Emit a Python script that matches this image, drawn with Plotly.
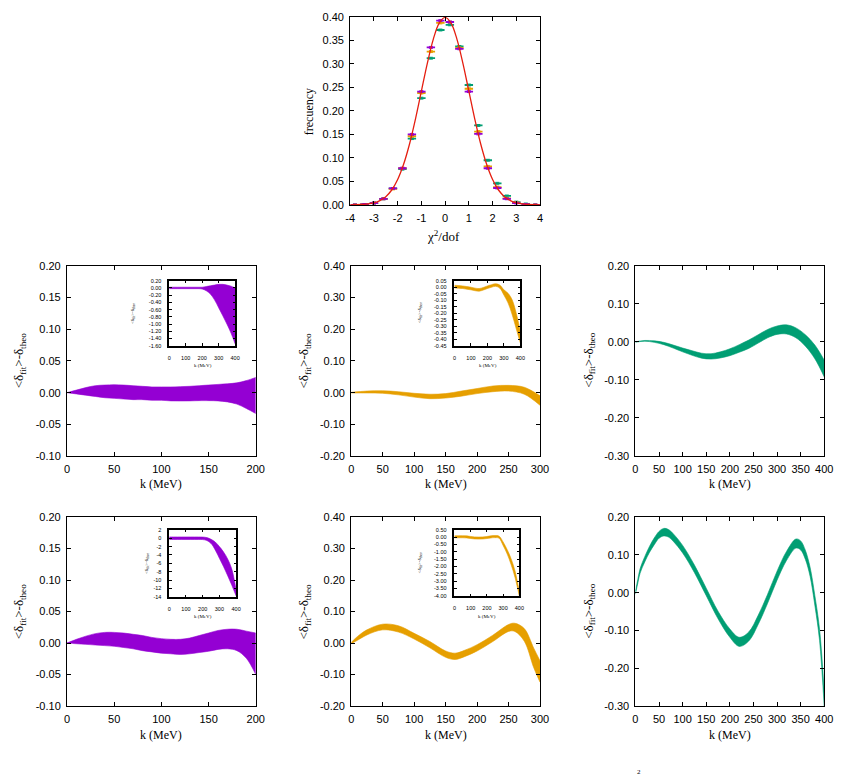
import plotly.graph_objects as go

W, H = 849, 784

# ---------------- data ----------------
chi_x = [-3.8, -3.4, -3.0, -2.6, -2.2, -1.8, -1.4, -1.0, -0.6, -0.2, 0.2, 0.6, 1.0, 1.4, 1.8, 2.2, 2.6, 3.0, 3.4, 3.8]
freq_purple = [0.000, 0.001, 0.004, 0.013, 0.035, 0.078, 0.150, 0.241, 0.335, 0.392, 0.389, 0.332, 0.241, 0.151, 0.078, 0.036, 0.013, 0.004, 0.001, 0.000]
freq_orange = [0.000, 0.001, 0.004, 0.013, 0.034, 0.078, 0.146, 0.238, 0.326, 0.387, 0.389, 0.334, 0.247, 0.156, 0.082, 0.038, 0.014, 0.005, 0.001, 0.000]
freq_green = [0.000, 0.001, 0.004, 0.013, 0.035, 0.076, 0.141, 0.227, 0.312, 0.372, 0.383, 0.337, 0.255, 0.169, 0.095, 0.046, 0.019, 0.006, 0.002, 0.000]
freq_err = 0.002

gauss_x = [-4.0, -3.75, -3.5, -3.25, -3.0, -2.75, -2.5, -2.25, -2.0, -1.75, -1.5, -1.25, -1.0, -0.75, -0.5, -0.25, 0.0,
           0.25, 0.5, 0.75, 1.0, 1.25, 1.5, 1.75, 2.0, 2.25, 2.5, 2.75, 3.0, 3.25, 3.5, 3.75, 4.0]
gauss_y = [0.0001, 0.0004, 0.0009, 0.0020, 0.0044, 0.0091, 0.0175, 0.0317, 0.0540, 0.0863, 0.1295, 0.1826, 0.2420, 0.3011, 0.3521, 0.3867, 0.3989,
           0.3867, 0.3521, 0.3011, 0.2420, 0.1826, 0.1295, 0.0863, 0.0540, 0.0317, 0.0175, 0.0091, 0.0044, 0.0020, 0.0009, 0.0004, 0.0001]

# middle-left (purple, k up to 200)
k_ml = [0, 10, 20, 30, 40, 50, 60, 70, 80, 90, 100, 110, 120, 130, 140, 150, 160, 170, 180, 190, 200]
d_ml = [0, 0.001, 0.002, 0.0025, 0.002, 0.0018, 0.001, 0.0, -0.0005, -0.0015, -0.0015, -0.002, -0.0018, -0.0015, -0.0008, -0.0003, 0.0, -0.0003, -0.0013, -0.003, -0.0045]
e_ml = [0, 0.003, 0.006, 0.0085, 0.010, 0.0108, 0.011, 0.011, 0.0105, 0.0105, 0.0105, 0.011, 0.0113, 0.0115, 0.0118, 0.0123, 0.013, 0.0143, 0.0168, 0.022, 0.0285]

k_in = [0, 25, 50, 75, 100, 125, 150, 175, 200, 225, 250, 275, 300, 325, 350, 375, 400]
d_ml_in = [0, 0, 0, 0, 0, 0, 0, 0, -0.005, -0.02, -0.055, -0.125, -0.225, -0.335, -0.46, -0.6, -0.775]
e_ml_in = [0.02, 0.02, 0.02, 0.02, 0.02, 0.02, 0.02, 0.02, 0.025, 0.06, 0.115, 0.205, 0.325, 0.435, 0.54, 0.65, 0.775]

# middle-middle (orange, k up to 300)
k_mm = [0, 25, 50, 75, 100, 125, 150, 175, 200, 225, 250, 275, 300]
d_mm = [0, 0.002, 0.002, -0.002, -0.008, -0.012, -0.010, -0.003, 0.005, 0.012, 0.014, 0.006, -0.025]
e_mm = [0.001, 0.003, 0.004, 0.005, 0.006, 0.007, 0.007, 0.008, 0.008, 0.009, 0.009, 0.011, 0.015]

d_mm_in = [0.005, 0.003, 0.0, -0.005, -0.01, -0.017, -0.02, -0.012, 0.0, 0.01, 0.017, 0.005, -0.04, -0.083, -0.153, -0.26, -0.385]
e_mm_in = [0.01, 0.01, 0.01, 0.01, 0.01, 0.01, 0.01, 0.01, 0.01, 0.01, 0.01, 0.012, 0.02, 0.037, 0.057, 0.06, 0.045]

# middle-right (green, k up to 400)
k_mr = [0, 20, 40, 60, 80, 100, 120, 140, 160, 180, 200, 220, 240, 260, 280, 300, 320, 340, 360, 380, 400]
d_mr = [0.0, 0.003, 0.001, -0.004, -0.012, -0.021, -0.029, -0.036, -0.038, -0.034, -0.027, -0.017, -0.006, 0.008, 0.022, 0.031, 0.033, 0.024, 0.004, -0.026, -0.07]
e_mr = [0.0005, 0.001, 0.002, 0.003, 0.004, 0.005, 0.006, 0.0065, 0.007, 0.008, 0.009, 0.010, 0.011, 0.011, 0.011, 0.011, 0.012, 0.013, 0.015, 0.018, 0.022]

# bottom-left (purple, k up to 200)
k_bl = [0, 10, 20, 30, 40, 50, 60, 70, 80, 90, 100, 110, 120, 130, 140, 150, 160, 170, 180, 190, 200]
d_bl = [0, 0.0025, 0.0045, 0.006, 0.0065, 0.006, 0.0045, 0.0025, 0, -0.0025, -0.0045, -0.0055, -0.006, -0.0045, -0.0015, 0.0015, 0.005, 0.0065, 0.005, -0.0025, -0.017]
e_bl = [0, 0.0035, 0.0065, 0.009, 0.0105, 0.011, 0.0115, 0.0115, 0.012, 0.0115, 0.0115, 0.0115, 0.012, 0.0125, 0.0135, 0.0145, 0.015, 0.0155, 0.017, 0.0215, 0.033]

d_bl_in = [0, 0, 0, 0, 0, 0, 0, 0, -0.02, -0.2, -0.75, -1.85, -3.4, -5.05, -7.0, -9.4, -13.1]
e_bl_in = [0.3, 0.3, 0.3, 0.3, 0.3, 0.3, 0.3, 0.3, 0.3, 0.35, 0.5, 0.95, 1.4, 1.75, 2.0, 1.9, 0.7]

# bottom-middle (orange, k up to 300)
k_bm = [0, 10, 25, 50, 75, 100, 125, 150, 165, 180, 200, 225, 250, 260, 275, 290, 300]
d_bm = [0.0, 0.015, 0.034, 0.051, 0.045, 0.022, -0.005, -0.035, -0.042, -0.033, -0.015, 0.015, 0.048, 0.05, 0.026, -0.047, -0.09]
e_bm = [0.002, 0.006, 0.008, 0.009, 0.010, 0.009, 0.010, 0.010, 0.010, 0.010, 0.010, 0.010, 0.011, 0.013, 0.02, 0.031, 0.034]

d_bm_in = [0.02, 0.03, 0.03, 0.02, -0.02, -0.05, -0.06, -0.05, -0.02, 0.02, 0.04, 0.0, -0.45, -1.0, -1.7, -2.6, -3.9]
e_bm_in = [0.07, 0.07, 0.07, 0.07, 0.07, 0.07, 0.07, 0.07, 0.07, 0.07, 0.07, 0.07, 0.12, 0.15, 0.2, 0.22, 0.15]

# bottom-right (green, k up to 400)
k_br = [0, 5, 10, 20, 30, 40, 50, 60, 70, 80, 100, 125, 150, 175, 200, 220, 240, 260, 280, 300, 320, 340, 350, 360, 370, 380, 390, 400]
d_br = [0.0, 0.03, 0.058, 0.089, 0.115, 0.136, 0.153, 0.160, 0.157, 0.146, 0.115, 0.063, 0.002, -0.059, -0.107, -0.130, -0.116, -0.072, -0.016, 0.045, 0.097, 0.130, 0.125, 0.100, 0.055, -0.020, -0.111, -0.285]
e_br = [0.004, 0.005, 0.006, 0.007, 0.008, 0.009, 0.009, 0.010, 0.010, 0.010, 0.010, 0.010, 0.010, 0.010, 0.011, 0.012, 0.012, 0.012, 0.012, 0.012, 0.012, 0.012, 0.012, 0.012, 0.012, 0.013, 0.015, 0.02]

# tick labels
chi_ticks = ["-4", "-3", "-2", "-1", "0", "1", "2", "3", "4"]
freq_ticks = ["0.00", "0.05", "0.10", "0.15", "0.20", "0.25", "0.30", "0.35", "0.40"]
k200_ticks = ["0", "50", "100", "150", "200"]
k300_ticks = ["0", "50", "100", "150", "200", "250", "300"]
k400_ticks = ["0", "50", "100", "150", "200", "250", "300", "350", "400"]
kin_ticks = ["0", "100", "200", "300", "400"]
y_left_ticks = ["-0.10", "-0.05", "0.00", "0.05", "0.10", "0.15", "0.20"]
y_mid_ticks = ["-0.20", "-0.10", "0.00", "0.10", "0.20", "0.30", "0.40"]
y_right_ticks = ["-0.30", "-0.20", "-0.10", "0.00", "0.10", "0.20"]
y_ml_in_ticks = ["-1.60", "-1.40", "-1.20", "-1.00", "-0.80", "-0.60", "-0.40", "-0.20", "0.00", "0.20"]
y_mm_in_ticks = ["-0.45", "-0.40", "-0.35", "-0.30", "-0.25", "-0.20", "-0.15", "-0.10", "-0.05", "0.00", "0.05"]
y_bl_in_ticks = ["-14", "-12", "-10", "-8", "-6", "-4", "-2", "0", "2"]
y_bm_in_ticks = ["-4.00", "-3.50", "-3.00", "-2.50", "-2.00", "-1.50", "-1.00", "-0.50", "0.00", "0.50"]

PURPLE = "#9400D3"
ORANGE = "#E69F00"
GREEN = "#009E73"
RED = "#E51E10"
SANS = "Liberation Sans, Arial, sans-serif"
SERIF = "Liberation Serif, Times New Roman, serif"

fig = go.Figure()
layout = dict(width=W, height=H, margin=dict(l=0, r=0, t=0, b=0, pad=0),
              paper_bgcolor="white", plot_bgcolor="white", showlegend=False, annotations=[])


def px_dom_x(a, b):
    return [a / W, b / W]


def px_dom_y(top, bottom):
    return [1 - bottom / H, 1 - top / H]


def add_axes(n, xpx, ypx, xr, yr, xt, yt, fs, tl, lw, xstand, ystand):
    sx = "" if n == 1 else str(n)
    common = dict(showgrid=False, zeroline=False, showline=True, linecolor="black", linewidth=lw,
                  mirror="allticks", ticks="inside", ticklen=tl, tickwidth=0.8, tickcolor="black",
                  tickfont=dict(family=SANS, size=fs, color="black"), fixedrange=True)
    layout["xaxis" + sx] = dict(domain=px_dom_x(*xpx), range=xr, anchor="y" + sx,
                                tickmode="array", tickvals=[float(t) for t in xt], ticktext=xt,
                                ticklabelstandoff=xstand, **common)
    layout["yaxis" + sx] = dict(domain=px_dom_y(*ypx), range=yr, anchor="x" + sx,
                                tickmode="array", tickvals=[float(t) for t in yt], ticktext=yt,
                                ticklabelstandoff=ystand, **common)
    return ("x" + sx, "y" + sx)


def band(ax, k, d, e, color):
    up = [a + b for a, b in zip(d, e)]
    lo = [a - b for a, b in zip(d, e)]
    fig.add_trace(go.Scatter(x=k, y=up, mode="lines", line=dict(color=color, width=0.6, shape="spline"),
                             xaxis=ax[0], yaxis=ax[1], hoverinfo="skip"))
    fig.add_trace(go.Scatter(x=k, y=lo, mode="lines", line=dict(color=color, width=0.6, shape="spline"),
                             fill="tonexty", fillcolor=color, xaxis=ax[0], yaxis=ax[1], hoverinfo="skip"))


def ann(text, x, y, size, family=SERIF, angle=0):
    layout["annotations"].append(dict(text=text, x=x / W, y=1 - y / H, xref="paper", yref="paper",
                                      showarrow=False, xanchor="center", yanchor="middle", textangle=angle,
                                      font=dict(family=family, size=size, color="black")))


YT = "&lt;δ<sub>fit</sub>&gt;-δ<sub>theo</sub>"

# top panel
a1 = add_axes(1, (351, 544), (11, 202), [-4, 4], [0, 0.40], chi_ticks, freq_ticks, 11, 4, 1, 3, 3)
for vals, col in [(freq_green, GREEN), (freq_orange, ORANGE), (freq_purple, PURPLE)]:
    fig.add_trace(go.Scatter(x=chi_x, y=vals, mode="markers",
                             marker=dict(symbol="line-ew", size=6, line=dict(color=col, width=1.8)),
                             error_y=dict(type="constant", value=freq_err, color=col, thickness=1, width=2),
                             xaxis=a1[0], yaxis=a1[1]))
fig.add_trace(go.Scatter(x=gauss_x, y=gauss_y, mode="lines", line=dict(color=RED, width=1.3, shape="spline"),
                         xaxis=a1[0], yaxis=a1[1]))
ann("frecuency", 309, 107, 12, angle=-90)
ann("χ<sup>2</sup>/dof", 446, 234, 13)

# main panels
a2 = add_axes(2, (63, 255), (264, 457), [0, 200], [-0.10, 0.20], k200_ticks, y_left_ticks, 11, 4, 1, 3, 3)
a3 = add_axes(3, (352, 544), (264, 457), [0, 300], [-0.20, 0.40], k300_ticks, y_mid_ticks, 11, 4, 1, 3, 3)
a4 = add_axes(4, (641, 833), (264, 457), [0, 400], [-0.30, 0.20], k400_ticks, y_right_ticks, 11, 4, 1, 3, 3)
a5 = add_axes(5, (63, 255), (519, 711), [0, 200], [-0.10, 0.20], k200_ticks, y_left_ticks, 11, 4, 1, 3, 3)
a6 = add_axes(6, (352, 544), (519, 711), [0, 300], [-0.20, 0.40], k300_ticks, y_mid_ticks, 11, 4, 1, 3, 3)
a7 = add_axes(7, (641, 833), (519, 711), [0, 400], [-0.30, 0.20], k400_ticks, y_right_ticks, 11, 4, 1, 3, 3)

band(a2, k_ml, d_ml, e_ml, PURPLE)
band(a3, k_mm, d_mm, e_mm, ORANGE)
band(a4, k_mr, d_mr, e_mr, GREEN)
band(a5, k_bl, d_bl, e_bl, PURPLE)
band(a6, k_bm, d_bm, e_bm, ORANGE)
band(a7, k_br, d_br, e_br, GREEN)

# insets
a8 = add_axes(8, (167, 234), (279, 345), [0, 400], [-1.60, 0.20], kin_ticks, y_ml_in_ticks, 5.5, 2.5, 1.6, 6, 5)
a9 = add_axes(9, (457, 524), (279, 345), [0, 400], [-0.45, 0.05], kin_ticks, y_mm_in_ticks, 5.5, 2.5, 1.6, 6, 5)
a10 = add_axes(10, (167, 235), (532, 600), [0, 400], [-14, 2], kin_ticks, y_bl_in_ticks, 5.5, 2.5, 1.6, 6, 5)
a11 = add_axes(11, (457, 523), (532, 599), [0, 400], [-4.0, 0.5], kin_ticks, y_bm_in_ticks, 5.5, 2.5, 1.6, 6, 5)

band(a8, k_in, d_ml_in, e_ml_in, PURPLE)
band(a9, k_in, d_mm_in, e_mm_in, ORANGE)
band(a10, k_in, d_bl_in, e_bl_in, PURPLE)
band(a11, k_in, d_bm_in, e_bm_in, ORANGE)

# axis titles
for x in (15, 305, 594):
    ann(YT, x, 360, 13, angle=-90)
    ann(YT, x, 615, 13, angle=-90)
for xc in (159, 448, 737):
    ann("k (MeV)", xc, 485, 12)
    ann("k (MeV)", xc, 740, 12)

ann(YT, 130, 312, 5, angle=-90)
ann(YT, 422, 312, 5, angle=-90)
ann(YT, 145, 566, 5, angle=-90)
ann(YT, 422, 566, 5, angle=-90)
ann("k (MeV)", 201, 365, 5)
ann("k (MeV)", 491, 365, 5)
ann("k (MeV)", 201, 620, 5)
ann("k (MeV)", 490, 620, 5)

# clipped fragment of a caption visible at the bottom edge
ann("2", 645, 778, 7)

fig.update_layout(**layout)
fig.write_html("out.html")
